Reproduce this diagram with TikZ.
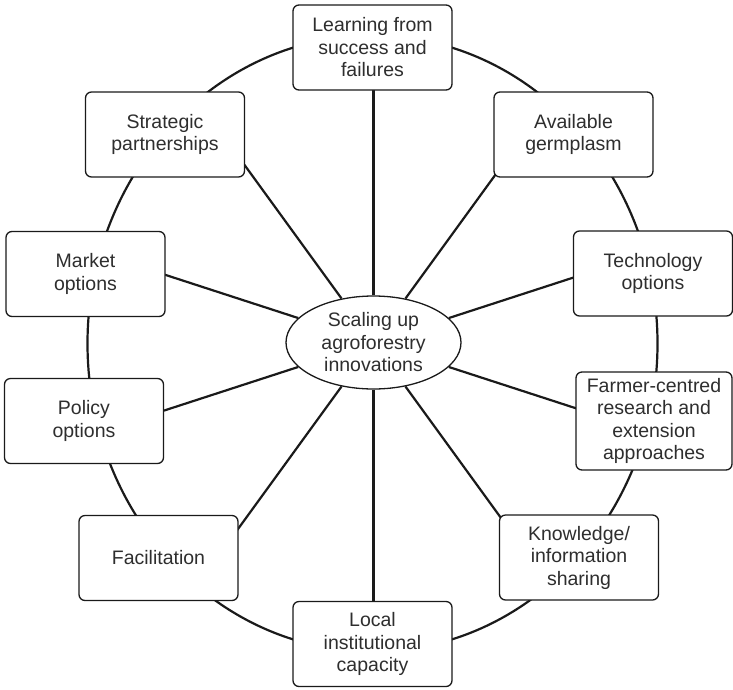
\documentclass[tikz,border=0pt]{standalone}
\usepackage{fontspec}
\setmainfont{Liberation Sans}
\usetikzlibrary{shapes.geometric,calc}
\pgfdeclarelayer{background}
\pgfsetlayers{background,main}
\definecolor{txt}{HTML}{2E2E2E}
\definecolor{ln}{HTML}{1A1A1A}
\tikzset{
  topic/.style={draw=ln, line width=1.3pt, fill=white, rounded corners=6pt,
    minimum width=159pt, minimum height=85pt, inner sep=0pt, align=center,
    text=txt, font=\fontsize{19.5pt}{22.5pt}\selectfont},
  hub/.style={draw=ln, line width=1.3pt, fill=white, ellipse,
    minimum width=175pt, minimum height=93pt, inner sep=0pt, align=center,
    text=txt, font=\fontsize{19.5pt}{22.5pt}\selectfont},
  spoke/.style={draw=ln, line width=2.2pt},
  rim/.style={draw=ln, line width=2.2pt}
}
\begin{document}
\begin{tikzpicture}[x=1pt,y=-1pt]
\useasboundingbox (0,0) rectangle (733,689);
\coordinate (rc) at (372.5,343.5);
% hub
\node[hub] (E) at (373.5,342.5) {Scaling up\\agroforestry\\innovations};
% boxes
\node[topic] (b1) at (372.5,47.5) {Learning from\\success and\\failures};
\node[topic] (b2) at (573.5,134.5) {Available\\germplasm};
\node[topic] (b3) at (653,273.5) {Technology\\options};
\node[topic, minimum width=156pt, minimum height=98pt] (b4) at (654,421) {Farmer-centred\\research and\\extension\\approaches};
\node[topic] (b5) at (579,557.5) {Knowledge/\\information\\sharing};
\node[topic] (b6) at (372.5,644) {Local\\institutional\\capacity};
\node[topic] (b7) at (158.5,558) {Facilitation};
\node[topic] (b8) at (84,421) {Policy\\options};
\node[topic] (b9) at (85.5,274) {Market\\options};
\node[topic] (b10) at (165,134.5) {Strategic\\partnerships};
% spoke ends (inside boxes)
\foreach \i/\a in {1/90,2/54,3/18,4/-18,5/-54,6/-90,7/-126,8/-162,9/162,10/126}{
  \coordinate (s\i) at ($(E.center)+({270*cos(\a)},{-270*sin(\a)})$);
}
\begin{pgfonlayer}{background}
  \draw[rim] (rc) ellipse [x radius=285pt, y radius=308pt];
  \foreach \i in {1,...,10}{
    \draw[spoke] (E) -- (s\i);
  }
\end{pgfonlayer}
\end{tikzpicture}
\end{document}
